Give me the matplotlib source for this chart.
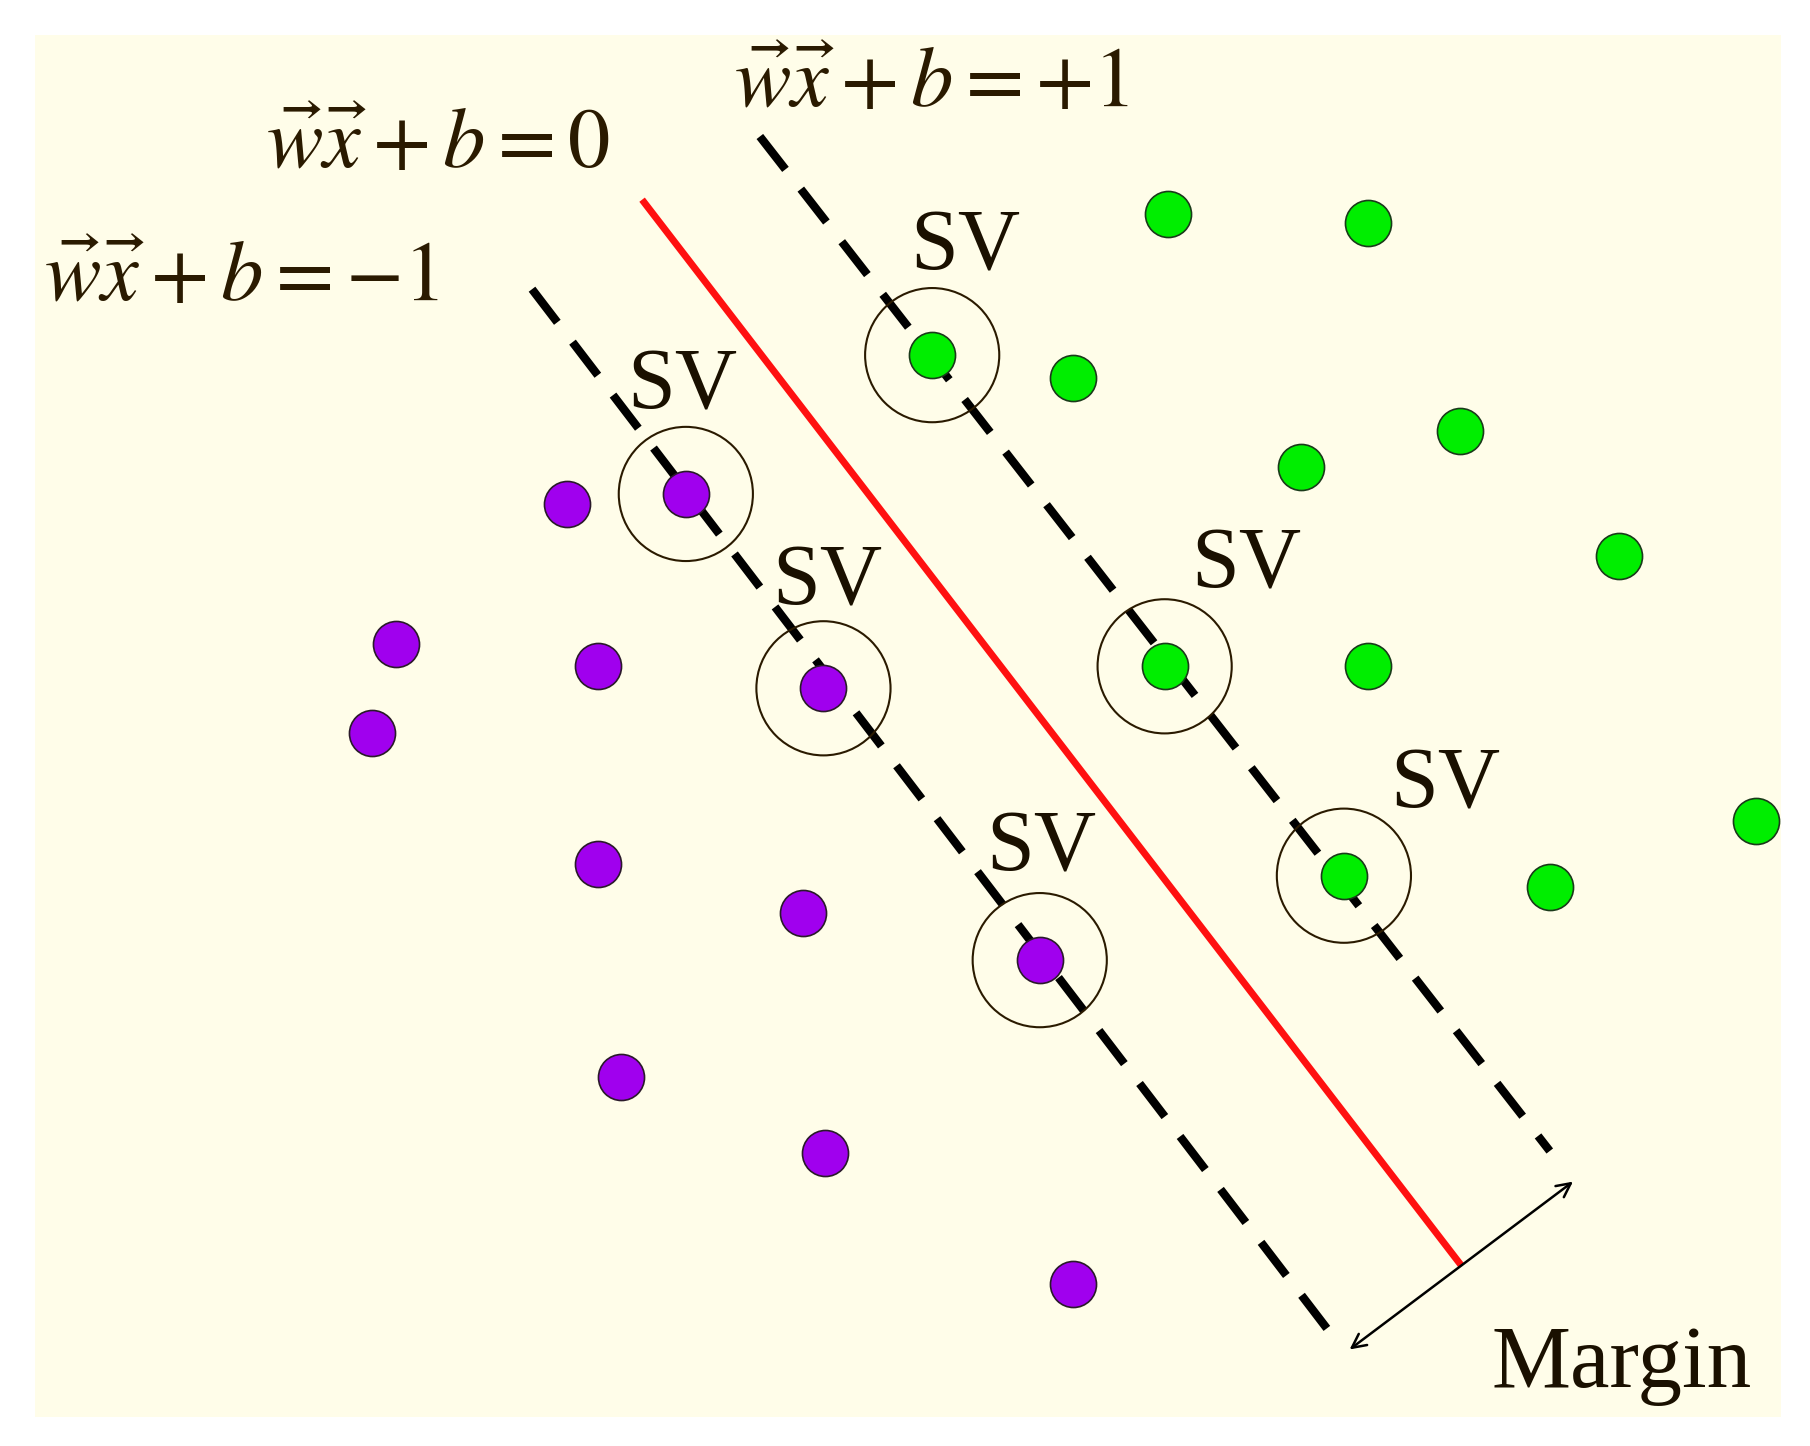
import matplotlib
matplotlib.use("Agg")
import matplotlib.pyplot as plt
from matplotlib.patches import Circle, Rectangle

plt.rcParams['mathtext.fontset'] = 'stix'

green_x = [1010, 1183, 928, 1262, 1125, 1400, 1183, 1518, 1340]
green_y = [185, 193, 327, 373, 404, 481, 576, 710, 767]
purple_x = [490, 342, 517, 322, 517, 694, 537, 713, 928]
purple_y = [436, 557, 576, 634, 747, 789, 931, 997, 1110]
sv_green_x = [806, 1007, 1162]
sv_green_y = [307, 576, 757]
sv_purple_x = [593, 712, 899]
sv_purple_y = [427, 595, 830]
sv_label_x = [835, 1078, 1250, 590, 715, 900]
sv_label_y = [215, 490, 680, 335, 505, 735]
sv_label = "SV"
line_zero = ([557, 1262], [175, 1092])
line_minus = ([460, 1160], [250, 1165])
line_plus = ([657, 1340], [118, 995])
eq_labels = [r"$\vec{w}\vec{x}+b=0$", r"$\vec{w}\vec{x}+b=+1$", r"$\vec{w}\vec{x}+b=-1$"]
margin_label = "Margin"

fig = plt.figure(figsize=(18.10, 14.46), dpi=100)
ax = fig.add_axes([0, 0, 1, 1])
ax.set_xlim(0, 1565)
ax.set_ylim(1250, 0)
ax.axis('off')
ax.add_patch(Rectangle((30, 30), 1510, 1195, facecolor='#FFFDE9', edgecolor='none', zorder=0))

ax.plot(*line_minus, color='black', lw=6, ls=(0, (5, 3)), zorder=2)
ax.plot(*line_plus, color='black', lw=6, ls=(0, (5, 3)), zorder=2)
ax.plot(*line_zero, color='#FF1010', lw=5, zorder=2)

ax.scatter(green_x + sv_green_x, green_y + sv_green_y, s=1100, color='#00EE00', edgecolor='#1a3a1a', lw=1.2, zorder=3)
ax.scatter(purple_x + sv_purple_x, purple_y + sv_purple_y, s=1100, color='#A000EE', edgecolor='#2a1a2a', lw=1.2, zorder=3)

for x, y in zip(sv_green_x + sv_purple_x, sv_green_y + sv_purple_y):
    ax.add_patch(Circle((x, y), 58, fill=False, edgecolor='#2a1a00', lw=1.5, zorder=4))
for x, y in zip(sv_label_x, sv_label_y):
    ax.text(x, y, sv_label, fontsize=62, family='Liberation Serif', ha='center', va='center', color='#1a1000', zorder=5)

ax.text(230, 125, eq_labels[0], fontsize=61, ha='left', va='center', color='#2a1a00')
ax.text(635, 72, eq_labels[1], fontsize=61, ha='left', va='center', color='#2a1a00')
ax.text(38, 240, eq_labels[2], fontsize=61, ha='left', va='center', color='#2a1a00')

ax.annotate('', xy=(1165, 1168), xytext=(1362, 1020),
            arrowprops=dict(arrowstyle='<->', color='black', lw=1.8, mutation_scale=25))
ax.text(1402, 1180, margin_label, fontsize=64, family='Liberation Serif', ha='center', va='center', color='#1a1000')

fig.savefig('out.png', dpi=100, facecolor='white')
